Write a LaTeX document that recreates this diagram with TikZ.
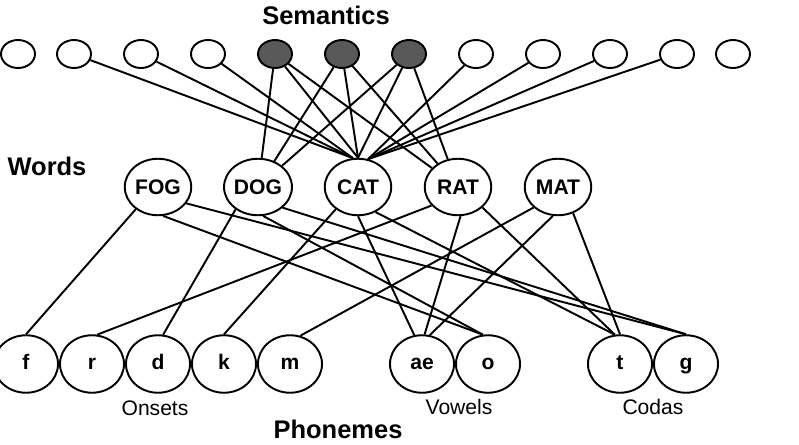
\documentclass[tikz,border=0pt]{standalone}
\usepackage{fontspec}
\setmainfont{Liberation Sans}
\usepackage{tikz}
\usetikzlibrary{shapes.geometric}

\begin{document}
\begin{tikzpicture}[auto, node distance=1.34cm, line width=1.1pt,
    sem/.style={ellipse,draw,minimum width=0.68cm,minimum height=0.56cm,inner sep=0pt},
    word/.style={ellipse,draw,minimum width=1.33cm,minimum height=1.13cm,inner sep=0pt,font=\fontsize{12}{14}\selectfont\bfseries},
    phon/.style={ellipse,draw,minimum width=1.28cm,minimum height=1.15cm,inner sep=0pt,text height=8.6pt,text depth=1.8pt,font=\fontsize{12}{14}\selectfont\bfseries},
    layer/.style={font=\fontsize{14.5}{17}\selectfont\bfseries},
    group/.style={font=\fontsize{12}{14}\selectfont}]
    \useasboundingbox (0,0) rectangle (15.98,-8.88);
    % semantic units
    \node[sem] (s1) at (0.36,-1.08) {};
    \node[sem] (s2) [node distance=1.12cm, right of=s1] {};
    \node[sem] (s3) [right of=s2] {};
    \node[sem] (s4) [right of=s3] {};
    \node[sem] (s5) [fill=black!65, right of=s4] {};
    \node[sem] (s6) [fill=black!65, right of=s5] {};
    \node[sem] (s7) [fill=black!65, right of=s6] {};
    \node[sem] (s8) [right of=s7] {};
    \node[sem] (s9) [right of=s8] {};
    \node[sem] (s10) [right of=s9] {};
    \node[sem] (s11) [right of=s10] {};
    \node[sem] (s12) [node distance=1.12cm, right of=s11] {};
    % words
    \node[word] (fog) at (3.16,-3.74) {FOG};
    \node[word] (dog) [node distance=2cm, right of=fog] {DOG};
    \node[word] (cat) [node distance=2cm, right of=dog] {CAT};
    \node[word] (rat) [node distance=2cm, right of=cat] {RAT};
    \node[word] (mat) [node distance=2cm, right of=rat] {MAT};
    % phonemes
    \node[phon] (f) at (0.52,-7.28) {f};
    \node[phon] (r) [node distance=1.32cm, right of=f] {r};
    \node[phon] (d) [node distance=1.32cm, right of=r] {d};
    \node[phon] (k) [node distance=1.32cm, right of=d] {k};
    \node[phon] (m) [node distance=1.32cm, right of=k] {m};
    \node[phon] (ae) [node distance=2.64cm, right of=m] {ae};
    \node[phon] (o) [node distance=1.32cm, right of=ae] {o};
    \node[phon] (t) [node distance=2.64cm, right of=o] {t};
    \node[phon] (g) [node distance=1.32cm, right of=t] {g};
    % labels
    \node[layer] (semantics) at (6.52,-0.30) {Semantics};
    \node[layer] (words) at (0.94,-3.32) {Words};
    \node[layer, anchor=base, inner sep=1pt] (phonemes) at (6.76,-8.76) {Phonemes};
    \node[group] (onsets) at (3.10,-8.16) {Onsets};
    \node[group] (vowels) at (9.18,-8.14) {Vowels};
    \node[group] (codas) at (13.06,-8.14) {Codas};
    \path
    (s2) edge (cat.100)
    (s3) edge (cat.100)
    (s4) edge (cat.100)
    (s5) edge (dog)
         edge (cat.north)
         edge (rat)
    (s6) edge (dog)
         edge (cat.north)
         edge (rat)
    (s7) edge (dog)
         edge (cat.north)
         edge (rat)
    (s8) edge (cat.70)
    (s9) edge (cat.70)
    (s10) edge (cat.70)
    (s11) edge (cat.70);
    \path
    (fog.225) edge (f.north)
    (fog.280) edge (o.100)
    (fog.330) edge (g.north)
    (dog.225) edge (d.80)
    (dog.280) edge (o.100)
    (dog.320) edge (g.north)
    (cat.225) edge (k.north)
    (cat.south) edge (ae.105)
    (cat.305) edge (t.100)
    (rat.215) edge (r.80)
    (rat.275) edge (ae.85)
    (rat.320) edge (t.100)
    (mat.220) edge (m.70)
    (mat.260) edge (ae.75)
    (mat.300) edge (t.north);
\end{tikzpicture}
\end{document}
